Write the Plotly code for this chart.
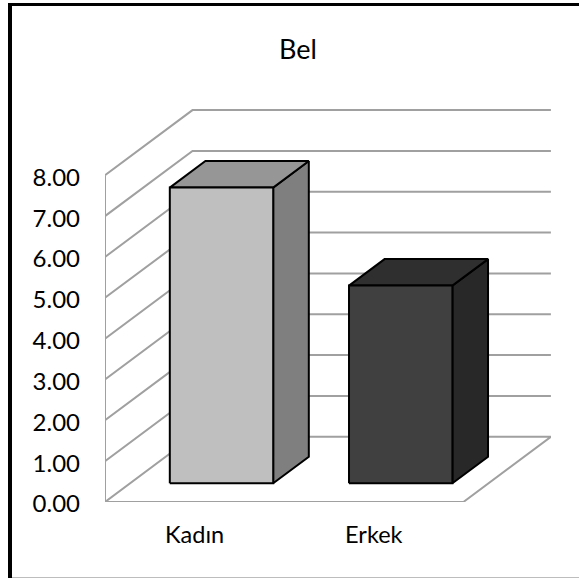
import plotly.graph_objects as go

categories = ["Kadın", "Erkek"]
values = [7.24, 4.84]
y_ticks = [0, 1, 2, 3, 4, 5, 6, 7, 8]
front_colors = ["#BFBFBF", "#404040"]
side_colors = ["#7F7F7F", "#282828"]
top_colors = ["#969696", "#2F2F2F"]

W, H = 579, 578
LEFT, RIGHT, TOP, BOTTOM = 105.0, 551.0, 109.0, 502.0
PX_PER_UNIT_Y = 40.84
PX_PER_CAT = 179.2
DX_PX, DY_PX = 87.5, 65.2
# oblique projection: depth d in 0..1 moves a point right and up
DX = DX_PX / PX_PER_CAT
DY = DY_PX / PX_PER_UNIT_Y
BAR_LEFT, BAR_W = 0.2215 - 0.5, 0.577
D0, D1 = 0.287, 0.694
GRID = "#A0A0A0"


def proj(x, v, d):
    return x + d * DX, v + d * DY


def path(points):
    xs, ys = zip(*[proj(*p) for p in points])
    return list(xs), list(ys)


x_lo, x_hi = -0.5, 1.5
fig = go.Figure()


def line(points):
    xs, ys = path(points)
    fig.add_trace(go.Scatter(x=xs, y=ys, mode="lines", cliponaxis=False, hoverinfo="skip",
                             line=dict(color=GRID, width=2), showlegend=False))


for t in y_ticks[1:]:
    line([(x_lo, t, 0), (x_lo, t, 1), (x_hi, t, 1)])
line([(x_lo, 0, 0), (x_lo, y_ticks[-1], 0)])
line([(x_lo, 0, 0), (x_hi, 0, 0), (x_hi, 0, 1), (x_lo, 0, 1), (x_lo, 0, 0)])


def face(points, color):
    xs, ys = path(points)
    fig.add_trace(go.Scatter(x=xs, y=ys, mode="lines", fill="toself", fillcolor=color,
                             cliponaxis=False, hoverinfo="skip",
                             line=dict(color="#000000", width=2), showlegend=False))


for i, v in enumerate(values):
    x0 = i + BAR_LEFT
    x1 = x0 + BAR_W
    face([(x1, 0, D0), (x1, 0, D1), (x1, v, D1), (x1, v, D0), (x1, 0, D0)], side_colors[i])
    face([(x0, v, D0), (x1, v, D0), (x1, v, D1), (x0, v, D1), (x0, v, D0)], top_colors[i])
    face([(x0, 0, D0), (x1, 0, D0), (x1, v, D0), (x0, v, D0), (x0, 0, D0)], front_colors[i])

FONT = "Lato, Carlito, Calibri, sans-serif"
fig.update_layout(
    width=W, height=H, autosize=False,
    margin=dict(l=LEFT, r=W - RIGHT, t=TOP, b=H - BOTTOM, pad=0),
    paper_bgcolor="#FFFFFF", plot_bgcolor="rgba(0,0,0,0)",
    title=dict(text="Bel", x=298 / W, xanchor="center", y=1 - 50 / H, yanchor="middle",
               font=dict(family=FONT, size=27, color="#000000")),
    xaxis=dict(range=[x_lo, x_lo + (RIGHT - LEFT) / PX_PER_CAT], tickvals=[0, 1], ticktext=categories,
               showgrid=False, zeroline=False, showline=False, ticks="", ticklabelstandoff=16,
               tickfont=dict(family=FONT, size=23.5, color="#000000")),
    yaxis=dict(range=[0, (BOTTOM - TOP) / PX_PER_UNIT_Y], tickvals=y_ticks, tickformat=".2f",
               showgrid=False, zeroline=False, showline=False, ticks="", ticklabelstandoff=24,
               ticklabelshift=2,
               tickfont=dict(family=FONT, size=24, color="#000000")),
)

# chart frame, given in pixels relative to the plot area
pw, ph = RIGHT - LEFT, BOTTOM - TOP
def px(x): return (x - LEFT) / pw
def py(y): return (BOTTOM - y) / ph
fig.layout.shapes = [
    dict(type="line", xref="paper", yref="paper", x0=px(10), x1=px(10), y0=py(3), y1=py(H), line=dict(color="#000000", width=4)),
    dict(type="line", xref="paper", yref="paper", x0=px(8), x1=px(W), y0=py(4.5), y1=py(4.5), line=dict(color="#000000", width=3)),
    dict(type="line", xref="paper", yref="paper", x0=px(12), x1=px(W), y0=py(577.5), y1=py(577.5), line=dict(color="#BDBDBD", width=1)),
]

fig.write_html("out.html", post_script="document.body.style.margin='0';document.documentElement.style.overflow='hidden';", config={"displayModeBar": False})
